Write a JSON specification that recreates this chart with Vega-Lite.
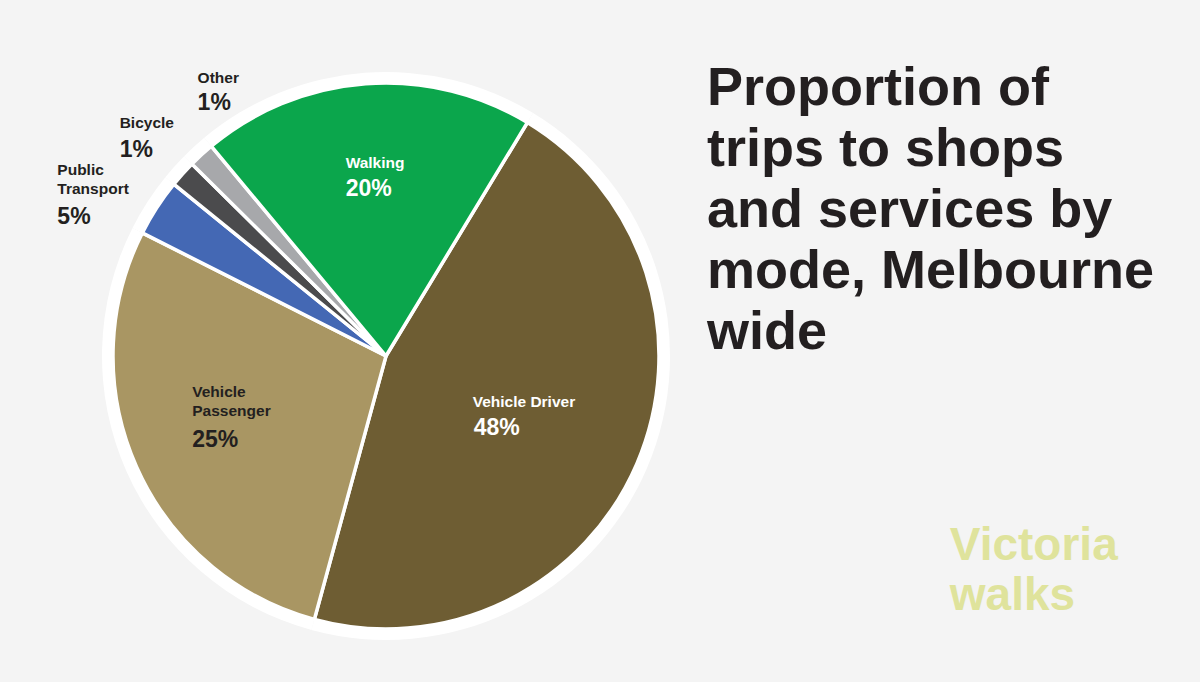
{
  "$schema": "https://vega.github.io/schema/vega-lite/v6.json",
  "width": 752,
  "height": 690,
  "autosize": "none",
  "padding": {"left": 10, "top": 11, "right": 438, "bottom": 0},
  "background": "#f4f4f4",
  "config": {"view": {"stroke": null}, "text": {"font": "Liberation Sans", "fontWeight": "bold"}},
  "title": {
    "text": ["Proportion of", "trips to shops", "and services by", "mode, Melbourne", "wide"],
    "subtitle": ["\u200b\u00a0\u00a0\u00a0\u00a0\u00a0\u00a0\u00a0\u00a0\u00a0\u00a0\u00a0\u00a0\u00a0\u00a0\u00a0\u00a0\u00a0\u00a0\u00a0Victoria", "\u200b\u00a0\u00a0\u00a0\u00a0\u00a0\u00a0\u00a0\u00a0\u00a0\u00a0\u00a0\u00a0\u00a0\u00a0\u00a0\u00a0\u00a0\u00a0\u00a0walks"],
    "orient": "top",
    "anchor": "start",
    "frame": "group",
    "align": "left",
    "offset": 0,
    "font": "Liberation Sans",
    "fontSize": 54,
    "fontWeight": "bold",
    "color": "#231f20",
    "lineHeight": 61,
    "subtitleFont": "Liberation Sans",
    "subtitleFontSize": 46,
    "subtitleFontWeight": "bold",
    "subtitleColor": "#dfe39c",
    "subtitleLineHeight": 50,
    "subtitlePadding": 164,
    "dx": 697,
    "dy": 631
  },
  "data": {
    "values": [
      {"mode": "Vehicle Driver", "share": 45.56, "pct": "48%", "ord": 1},
      {"mode": "Vehicle Passenger", "share": 28.22, "pct": "25%", "ord": 2},
      {"mode": "Public Transport", "share": 3.39, "pct": "5%", "ord": 3},
      {"mode": "Bicycle", "share": 1.58, "pct": "1%", "ord": 4},
      {"mode": "Other", "share": 1.53, "pct": "1%", "ord": 5},
      {"mode": "Walking", "share": 19.72, "pct": "20%", "ord": 6}
    ]
  },
  "encoding": {
    "theta": {"field": "share", "type": "quantitative", "stack": true, "scale": {"range": [0.5445, 6.8277]}},
    "order": {"field": "ord", "type": "quantitative"}
  },
  "layer": [
    {
      "mark": {"type": "arc", "outerRadius": 284, "color": "#ffffff"},
      "encoding": {}
    },
    {
      "mark": {"type": "arc", "outerRadius": 273, "stroke": "#ffffff", "strokeWidth": 3.5},
      "encoding": {
        "color": {
          "field": "mode", "type": "nominal", "legend": null,
          "scale": {
            "domain": ["Vehicle Driver", "Vehicle Passenger", "Public Transport", "Bicycle", "Other", "Walking"],
            "range": ["#6e5d33", "#a99663", "#4468b4", "#4b4b4d", "#a7a8ab", "#0ba64c"]
          }
        }
      }
    },
    {
      "mark": {"type": "text", "align": "left", "baseline": "alphabetic", "fontSize": 15.5, "color": "#ffffff", "dx": -28, "dy": -23},
      "encoding": {"radius": {"value": 165}, "text": {"condition": {"test": "datum.mode === 'Walking'", "field": "mode"}, "value": ""}}
    },
    {
      "mark": {"type": "text", "align": "left", "baseline": "alphabetic", "fontSize": 23, "color": "#ffffff", "dx": -28, "dy": 5},
      "encoding": {"radius": {"value": 165}, "text": {"condition": {"test": "datum.mode === 'Walking'", "field": "pct"}, "value": ""}}
    },
    {
      "mark": {"type": "text", "align": "left", "baseline": "alphabetic", "fontSize": 15.5, "color": "#ffffff", "dx": -65, "dy": -14},
      "encoding": {"radius": {"value": 165}, "text": {"condition": {"test": "datum.mode === 'Vehicle Driver'", "field": "mode"}, "value": ""}}
    },
    {
      "mark": {"type": "text", "align": "left", "baseline": "alphabetic", "fontSize": 23, "color": "#ffffff", "dx": -64, "dy": 14},
      "encoding": {"radius": {"value": 165}, "text": {"condition": {"test": "datum.mode === 'Vehicle Driver'", "field": "pct"}, "value": ""}}
    },
    {
      "mark": {"type": "text", "align": "left", "baseline": "alphabetic", "fontSize": 15.5, "lineHeight": 19, "color": "#231f20", "dx": -43, "dy": -26},
      "encoding": {"radius": {"value": 165}, "text": {"condition": {"test": "datum.mode === 'Vehicle Passenger'", "value": ["Vehicle", "Passenger"]}, "value": ""}}
    },
    {
      "mark": {"type": "text", "align": "left", "baseline": "alphabetic", "fontSize": 23, "color": "#231f20", "dx": -43, "dy": 24},
      "encoding": {"radius": {"value": 165}, "text": {"condition": {"test": "datum.mode === 'Vehicle Passenger'", "field": "pct"}, "value": ""}}
    },
    {
      "mark": {"type": "text", "align": "left", "baseline": "alphabetic", "fontSize": 15.5, "lineHeight": 19, "color": "#231f20", "dx": -60, "dy": -7},
      "encoding": {"radius": {"value": 320}, "text": {"condition": {"test": "datum.mode === 'Public Transport'", "value": ["Public", "Transport"]}, "value": ""}}
    },
    {
      "mark": {"type": "text", "align": "left", "baseline": "alphabetic", "fontSize": 23, "color": "#231f20", "dx": -60, "dy": 42},
      "encoding": {"radius": {"value": 320}, "text": {"condition": {"test": "datum.mode === 'Public Transport'", "field": "pct"}, "value": ""}}
    },
    {
      "mark": {"type": "text", "align": "left", "baseline": "alphabetic", "fontSize": 15.5, "color": "#231f20", "dx": -28, "dy": -14},
      "encoding": {"radius": {"value": 320}, "text": {"condition": {"test": "datum.mode === 'Bicycle'", "field": "mode"}, "value": ""}}
    },
    {
      "mark": {"type": "text", "align": "left", "baseline": "alphabetic", "fontSize": 23, "color": "#231f20", "dx": -28, "dy": 15},
      "encoding": {"radius": {"value": 320}, "text": {"condition": {"test": "datum.mode === 'Bicycle'", "field": "pct"}, "value": ""}}
    },
    {
      "mark": {"type": "text", "align": "left", "baseline": "alphabetic", "fontSize": 15.5, "color": "#231f20", "dx": 28, "dy": -37},
      "encoding": {"radius": {"value": 320}, "text": {"condition": {"test": "datum.mode === 'Other'", "field": "mode"}, "value": ""}}
    },
    {
      "mark": {"type": "text", "align": "left", "baseline": "alphabetic", "fontSize": 23, "color": "#231f20", "dx": 28, "dy": -10},
      "encoding": {"radius": {"value": 320}, "text": {"condition": {"test": "datum.mode === 'Other'", "field": "pct"}, "value": ""}}
    }
  ]
}
